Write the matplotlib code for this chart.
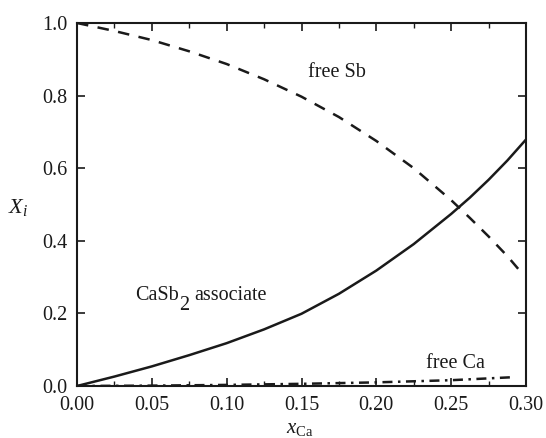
import matplotlib.pyplot as plt
import numpy as np
from matplotlib.ticker import MultipleLocator

plt.rcParams['font.family'] = ['Liberation Serif', 'DejaVu Serif']
plt.rcParams['mathtext.fontset'] = 'custom'
plt.rcParams['mathtext.rm'] = 'Liberation Serif'
plt.rcParams['mathtext.it'] = 'Liberation Serif:italic'

INK = '#1a1a1a'

# mole fractions of species vs. calcium content
x_ca = [0.0, 0.025, 0.05, 0.075, 0.10, 0.125, 0.15, 0.175, 0.20, 0.225, 0.25,
        0.2625, 0.275, 0.2875, 0.30]
casb2 = [0.0, 0.026, 0.054, 0.085, 0.118, 0.156, 0.199, 0.254, 0.318, 0.391, 0.474,
         0.519, 0.568, 0.621, 0.679]
x_sb = [0.0, 0.025, 0.05, 0.075, 0.10, 0.125, 0.15, 0.175, 0.20, 0.225, 0.25,
        0.2625, 0.275, 0.2875, 0.297]
free_sb = [1.0, 0.978, 0.953, 0.922, 0.887, 0.845, 0.797, 0.741, 0.675, 0.600, 0.512,
           0.463, 0.412, 0.358, 0.312]
x_free_ca = [0.0, 0.05, 0.10, 0.15, 0.20, 0.25, 0.29]
free_ca = [0.0, 0.001, 0.003, 0.006, 0.010, 0.016, 0.024]

fig = plt.figure(figsize=(5.46, 4.38), dpi=100)
ax = fig.add_axes([77 / 546, 1 - 386 / 438, 449 / 546, 363 / 438])

ax.plot(x_ca, casb2, color=INK, lw=1.8)
ax.plot(x_sb, free_sb, color=INK, lw=1.8, dashes=(4.6, 3.8))
ax.plot(x_free_ca, free_ca, color=INK, lw=1.8, dashes=(4.0, 2.2, 1.0, 2.2))

ax.set_xlim(0, 0.30)
ax.set_ylim(0, 1.0)
ax.xaxis.set_major_locator(MultipleLocator(0.05))
ax.xaxis.set_minor_locator(MultipleLocator(0.025))
ax.yaxis.set_major_locator(MultipleLocator(0.2))
ax.xaxis.set_major_formatter(plt.FuncFormatter(lambda v, p: f'{v:.2f}'))
ax.yaxis.set_major_formatter(plt.FuncFormatter(lambda v, p: f'{v:.1f}'))

ax.tick_params(which='both', direction='in', top=True, right=True,
               labelsize=14.5, color=INK, labelcolor=INK)
ax.tick_params(which='major', length=6, width=1.2)
ax.tick_params(which='minor', length=3.5, width=1.0)
ax.tick_params(axis='x', which='major', pad=7)
ax.tick_params(axis='y', which='major', pad=7)
for s in ax.spines.values():
    s.set_linewidth(1.5)
    s.set_color(INK)

# curve labels
ax.text(0.1737, 0.863, 'free Sb', fontsize=14.5, ha='center', va='center', color=INK)
ax.text(0.2526, 0.063, 'free Ca', fontsize=14.5, ha='center', va='center', color=INK)

# "CaSb2 associate" with a full-size, lowered subscript
t1 = fig.text(135 / 546, 1 - 300 / 438, 'CaSb', fontsize=14.5, ha='left',
              va='baseline', color=INK)
t2 = ax.annotate('2', xy=(1, 0), xycoords=t1, xytext=(0.3, -7.2),
                 textcoords='offset points', fontsize=14.5, ha='left',
                 va='bottom', color=INK)
ax.annotate('associate', xy=(1, 0), xycoords=t2, xytext=(3.5, 7.2),
            textcoords='offset points', fontsize=14.5, ha='left',
            va='bottom', color=INK)

fig.text(18 / 546, 1 - 208 / 438, r'$X_i$', fontsize=16, ha='center', va='center',
         color=INK)
fig.text(300 / 546, 1 - 428 / 438, r'$x_{\rm Ca}$', fontsize=15, ha='center',
         va='center', color=INK)

fig.savefig('out.png', dpi=100)
